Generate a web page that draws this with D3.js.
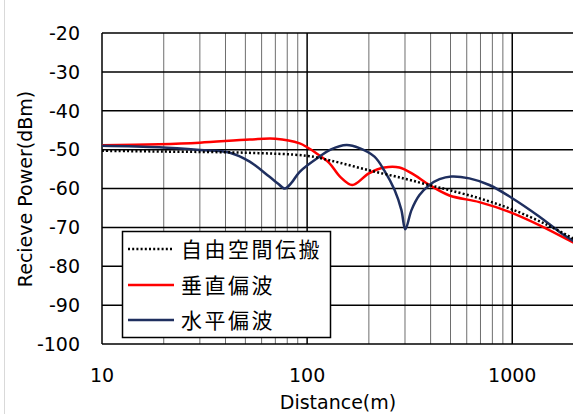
<!DOCTYPE html>
<html><head><meta charset="utf-8">
<script src="https://cdn.jsdelivr.net/npm/d3@7"></script>
<style>body{margin:0;background:#fff}svg{display:block}</style>
</head><body>
<svg id="c" width="573" height="414"></svg>
<script>
// ---- data ----
const seriesNames = ["自由空間伝搬", "垂直偏波", "水平偏波"];
const freeD = [10, 20, 50, 100, 130, 200, 300, 400, 500, 700, 1000, 1500, 2000];
const freeV = [-50.3, -50.5, -50.8, -51.6, -52.8, -55.3, -57.5, -59.2, -60.5, -62.6, -65.4, -69.5, -73.0];
const vertD = [10, 19, 30, 52.5, 70, 92, 100, 110, 128, 145, 166, 200, 238, 282, 333, 395, 494, 691, 967, 1353, 2000];
const vertV = [-48.9, -48.6, -48.2, -47.4, -47.2, -48.4, -49.4, -50.8, -53.4, -57.0, -59.1, -56.1, -54.6, -54.6, -56.5, -59.1, -61.8, -63.5, -66.0, -69.4, -74.0];
const horD = [10, 19, 30, 42, 52.5, 65.6, 72, 77.8, 84, 92, 115, 130, 155.6, 180, 213, 238, 267, 288, 301, 323, 353, 395, 442, 505, 618, 773, 1000, 1353, 1694, 2000];
const horV = [-49.0, -49.4, -50.1, -50.8, -53.1, -57.0, -58.7, -60.0, -58.5, -55.7, -51.8, -50.0, -48.8, -49.6, -51.8, -55.4, -60.4, -65.5, -70.5, -65.5, -61.7, -59.1, -57.6, -56.9, -57.4, -59.1, -62.5, -67.2, -71.1, -73.6];
const xTicks = [10, 100, 1000];
const yTicks = [-100, -90, -80, -70, -60, -50, -40, -30, -20];
const xLabel = "Distance(m)";
const yLabel = "Recieve Power(dBm)";

// ---- chart ----
const svg = d3.select("#c");
const L = 102, R = 574, T = 33, B = 344;
const x = d3.scaleLog().domain([10, 2000]).range([L, R]);
const y = d3.scaleLinear().domain([-100, -20]).range([B, T]);
const font = "'DejaVu Sans', Verdana, sans-serif";

// faint outer border
svg.append("line").attr("x1", 4.5).attr("x2", 4.5).attr("y1", 0).attr("y2", 414)
  .attr("stroke", "#d9d9d9").attr("stroke-width", 1);

// minor vertical gridlines
const minor = [];
[10, 100, 1000].forEach(dec => { for (let k = 2; k <= 9; k++) { const v = k * dec; if (v < 2000) minor.push(v); } });
svg.append("g").selectAll("line").data(minor).join("line")
  .attr("x1", d => x(d)).attr("x2", d => x(d)).attr("y1", T).attr("y2", B)
  .attr("stroke", "#6e6e6e").attr("stroke-width", 1);
// major vertical gridlines
svg.append("g").selectAll("line").data([100, 1000]).join("line")
  .attr("x1", d => x(d)).attr("x2", d => x(d)).attr("y1", T).attr("y2", B)
  .attr("stroke", "#000").attr("stroke-width", 1.5);
// horizontal gridlines
svg.append("g").selectAll("line").data(yTicks).join("line")
  .attr("x1", L).attr("x2", R).attr("y1", d => y(d)).attr("y2", d => y(d))
  .attr("stroke", "#000").attr("stroke-width", 1.5);
// left axis line
svg.append("line").attr("x1", L).attr("x2", L).attr("y1", T).attr("y2", B)
  .attr("stroke", "#000").attr("stroke-width", 1.5);

// y tick labels
svg.append("g").selectAll("text").data(yTicks).join("text")
  .attr("x", 80).attr("y", d => y(d)).attr("dy", "0.36em")
  .attr("text-anchor", "end").attr("font-family", font).attr("font-size", 19)
  .text(d => d);
// x tick labels
svg.append("g").selectAll("text").data(xTicks).join("text")
  .attr("x", d => x(d)).attr("y", 382)
  .attr("text-anchor", "middle").attr("font-family", font).attr("font-size", 19)
  .text(d => d);
// axis titles
svg.append("text").attr("x", 338).attr("y", 409).attr("text-anchor", "middle")
  .attr("font-family", font).attr("font-size", 19).text(xLabel);
svg.append("text").attr("transform", "translate(32,189) rotate(-90)").attr("text-anchor", "middle")
  .attr("font-family", font).attr("font-size", 19).text(yLabel);

// lines
svg.append("clipPath").attr("id", "pc").append("rect")
  .attr("x", L).attr("y", T - 5).attr("width", R - L).attr("height", B - T + 10);
const line = d3.line().x(d => x(d[0])).y(d => y(d[1])).curve(d3.curveCatmullRom.alpha(0.5));
const g = svg.append("g").attr("clip-path", "url(#pc)");
const styles = [
  { d: freeD, v: freeV, color: "#000", dash: "2,2.2", w: 2.5 },
  { d: vertD, v: vertV, color: "#ff0000", dash: null, w: 2.5 },
  { d: horD, v: horV, color: "#1f2f5f", dash: null, w: 2.5 }
];
[styles[1], styles[2], styles[0]].forEach(s => {
  g.append("path").datum(d3.zip(s.d, s.v)).attr("d", line)
    .attr("fill", "none").attr("stroke", s.color).attr("stroke-width", s.w)
    .attr("stroke-dasharray", s.dash);
});

// legend
const lg = svg.append("g");
lg.append("rect").attr("x", 122.5).attr("y", 231.5).attr("width", 208).attr("height", 106)
  .attr("fill", "#fff").attr("stroke", "#000").attr("stroke-width", 1.5);
const rows = [249, 285, 320];
styles.forEach((s, i) => {
  lg.append("line").attr("x1", 128).attr("x2", 174).attr("y1", rows[i]).attr("y2", rows[i])
    .attr("stroke", s.color).attr("stroke-width", s.w).attr("stroke-dasharray", s.dash);
  lg.append("text").attr("x", 181).attr("y", rows[i]).attr("dy", "0.36em")
    .attr("font-family", "'Noto Sans CJK JP', sans-serif").attr("font-size", 21)
    .attr("letter-spacing", 2.5).text(seriesNames[i]);
});
</script>
</body></html>
